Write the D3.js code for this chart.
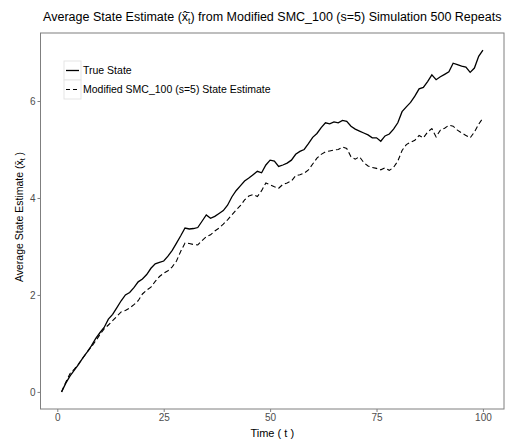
<!DOCTYPE html>
<html>
<head>
<meta charset="utf-8">
<script src="https://cdn.jsdelivr.net/npm/d3@7"></script>
<style>
  body { margin: 0; background: #fff; }
  text { font-family: "Liberation Sans", Arial, sans-serif; }
</style>
</head>
<body>
<div class="chart"></div>
<script>
// values, t = 1..100
var trueState = [
  0.00, 0.18, 0.33, 0.45, 0.57, 0.70, 0.82, 0.95, 1.10, 1.22,
  1.33, 1.50, 1.60, 1.74, 1.88, 2.00, 2.05, 2.15, 2.27, 2.33,
  2.42, 2.55, 2.64, 2.67, 2.70, 2.80, 2.92, 3.07, 3.22, 3.38,
  3.36, 3.37, 3.39, 3.52, 3.65, 3.58, 3.62, 3.68, 3.74, 3.85,
  4.02, 4.15, 4.25, 4.35, 4.41, 4.48, 4.55, 4.52, 4.68, 4.78,
  4.76, 4.65, 4.68, 4.72, 4.78, 4.90, 4.96, 5.00, 5.12, 5.25,
  5.33, 5.45, 5.55, 5.53, 5.57, 5.55, 5.60, 5.58, 5.48, 5.42,
  5.38, 5.34, 5.30, 5.24, 5.24, 5.17, 5.28, 5.32, 5.42, 5.55,
  5.78, 5.88, 5.97, 6.10, 6.25, 6.28, 6.40, 6.54, 6.44, 6.50,
  6.55, 6.60, 6.78, 6.75, 6.72, 6.70, 6.59, 6.68, 6.92, 7.05
]
var estimate = [
  0.00, 0.20, 0.38, 0.47, 0.58, 0.70, 0.82, 0.93, 1.05, 1.18,
  1.30, 1.38, 1.47, 1.56, 1.65, 1.68, 1.73, 1.80, 1.88, 2.02,
  2.10, 2.16, 2.28, 2.38, 2.45, 2.50, 2.58, 2.70, 2.90, 3.07,
  3.06, 3.04, 3.03, 3.12, 3.20, 3.24, 3.32, 3.38, 3.46, 3.55,
  3.65, 3.75, 3.84, 3.96, 4.04, 4.07, 4.03, 4.15, 4.31, 4.27,
  4.23, 4.20, 4.28, 4.31, 4.35, 4.46, 4.48, 4.51, 4.58, 4.70,
  4.82, 4.90, 4.95, 4.97, 4.99, 5.00, 5.05, 5.02, 4.85, 4.80,
  4.85, 4.73, 4.66, 4.63, 4.61, 4.58, 4.62, 4.57, 4.63, 4.76,
  4.98, 5.10, 5.15, 5.19, 5.29, 5.24, 5.36, 5.43, 5.26, 5.40,
  5.44, 5.50, 5.48, 5.40, 5.34, 5.29, 5.24, 5.36, 5.52, 5.65
]
var xTicks = [0, 25, 50, 75, 100]
var yTicks = [0, 2, 4, 6]
var seriesNames = ["True State", "Modified SMC_100 (s=5) State Estimate"]

var margin = {top: 33, right: 2, bottom: 36, left: 40.5}
var width = 506 - margin.left - margin.right
var height = 445 - margin.top - margin.bottom

var tRange = [1, trueState.length]
var tPad = (tRange[1] - tRange[0]) * 0.05
var x = d3.scaleLinear().domain([tRange[0] - tPad, tRange[1] + tPad]).range([0, width])
var vMin = d3.min(trueState.concat(estimate)), vMax = d3.max(trueState.concat(estimate))
var vPad = (vMax - vMin) * 0.05
var y = d3.scaleLinear().domain([vMin - vPad, vMax + vPad]).range([height, 0])

var svg = d3.select(".chart").append("svg")
    .attr("width", 506)
    .attr("height", 445)

var g = svg.append("g")
    .attr("transform", "translate(" + margin.left + "," + margin.top + ")")

var line = d3.line()
    .x((d, i) => x(i + 1))
    .y(d => y(d))

g.append("path")
    .datum(trueState)
    .attr("fill", "none")
    .attr("stroke", "#000")
    .attr("stroke-width", 1.3)
    .attr("d", line)

g.append("path")
    .datum(estimate)
    .attr("fill", "none")
    .attr("stroke", "#000")
    .attr("stroke-width", 1.1)
    .attr("stroke-dasharray", "5,3")
    .attr("d", line)

// panel border
g.append("rect")
    .attr("width", width)
    .attr("height", height)
    .attr("fill", "none")
    .attr("stroke", "#7f7f7f")
    .attr("stroke-width", 1)

var xAxis = g.append("g")
    .attr("transform", "translate(0," + height + ")")
    .call(d3.axisBottom(x).tickValues(xTicks).tickSize(3).tickPadding(2))
var yAxis = g.append("g")
    .call(d3.axisLeft(y).tickValues(yTicks).tickSize(3).tickPadding(2))

;[xAxis, yAxis].forEach(a => {
    a.select(".domain").remove()
    a.selectAll(".tick line").attr("stroke", "#7f7f7f")
    a.selectAll(".tick text")
        .attr("fill", "#4d4d4d")
        .style("font-size", "10px")
        .style("font-family", "'Liberation Sans', Arial, sans-serif")
})

// axis titles
svg.append("text")
    .attr("x", margin.left + width / 2)
    .attr("y", 437)
    .attr("text-anchor", "middle")
    .style("font-size", "11px")
    .text("Time ( t )")

var yl = svg.append("text")
    .attr("transform", "translate(23," + (margin.top + height / 2 - 4) + ") rotate(-90)")
    .attr("text-anchor", "middle")
    .style("font-size", "10.5px")
yl.append("tspan").text("Average State Estimate (")
yl.append("tspan").text("x\u0304")
yl.append("tspan").attr("baseline-shift", "-30%").style("font-size", "7px").text("t")
yl.append("tspan").text(" )")

var title = svg.append("text")
    .attr("x", margin.left + width / 2)
    .attr("y", 21)
    .attr("text-anchor", "middle")
    .style("font-size", "12.5px")
title.append("tspan").text("Average State Estimate (")
title.append("tspan").text("x\u0302\u0304")
title.append("tspan").attr("baseline-shift", "-30%").style("font-size", "8.5px").text("t")
title.append("tspan").text(") from Modified SMC_100 (s=5) Simulation 500 Repeats")

// legend
var legend = svg.append("g").attr("transform", "translate(64,61)")
var keyH = 19
seriesNames.forEach((name, i) => {
    var row = legend.append("g").attr("transform", "translate(0," + (i * keyH) + ")")
    row.append("rect")
        .attr("width", 17)
        .attr("height", keyH)
        .attr("fill", "#fff")
        .attr("stroke", "#e5e5e5")
    row.append("line")
        .attr("x1", 2).attr("x2", 15)
        .attr("y1", keyH / 2).attr("y2", keyH / 2)
        .attr("stroke", "#000")
        .attr("stroke-width", i == 0 ? 1.3 : 1.1)
        .attr("stroke-dasharray", i == 0 ? null : "4,3")
    row.append("text")
        .attr("x", 19)
        .attr("y", keyH / 2)
        .attr("dy", "0.35em")
        .style("font-size", "10.5px")
        .text(name)
})
</script>
</body>
</html>
